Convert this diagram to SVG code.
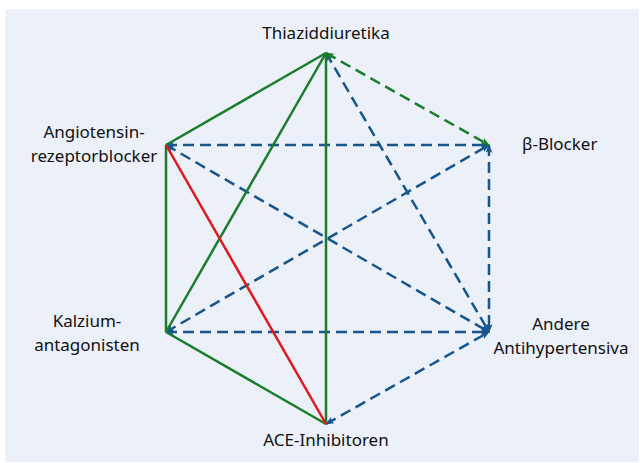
<svg xmlns="http://www.w3.org/2000/svg" width="640" height="463" viewBox="0 0 640 463">
<style>
.lbl{font-family:"Noto Sans","Open Sans","DejaVu Sans",sans-serif;font-size:17px;fill:#111}
.c{stroke-width:2.5;fill:none;stroke-linecap:butt}
.g{stroke:#1a7d2c}
.b{stroke:#17558f}
.r{stroke:#e3161d}
.d{stroke-dasharray:11,6}
</style>
<defs>
<marker id="ag" viewBox="0 0 10 8" refX="9" refY="4" markerWidth="9" markerHeight="7" markerUnits="userSpaceOnUse" orient="auto-start-reverse"><path d="M0,0 L10,4 L0,8 L2.5,4 z" fill="#1a7d2c"/></marker>
<marker id="ab" viewBox="0 0 10 8" refX="9" refY="4" markerWidth="9" markerHeight="7" markerUnits="userSpaceOnUse" orient="auto-start-reverse"><path d="M0,0 L10,4 L0,8 L2.5,4 z" fill="#17558f"/></marker>
</defs>
<rect x="5" y="9" width="634" height="453" rx="2" fill="#ebf0f9"/>
<g id="connectors">
<line class="c b d" x1="166" y1="145" x2="489" y2="145" marker-start="url(#ab)" marker-end="url(#ab)"/>
<line class="c b d" x1="166" y1="145" x2="489" y2="332" marker-start="url(#ab)" marker-end="url(#ab)"/>
<line class="c b d" x1="166" y1="332" x2="489" y2="145" marker-start="url(#ab)" marker-end="url(#ab)"/>
<line class="c b d" x1="166" y1="332" x2="489" y2="332" marker-start="url(#ab)" marker-end="url(#ab)"/>
<line class="c b d" x1="489" y1="145" x2="489" y2="332" marker-start="url(#ab)" marker-end="url(#ab)"/>
<line class="c b d" x1="326" y1="424" x2="489" y2="332" marker-start="url(#ab)" marker-end="url(#ab)"/>
<line class="c b d" x1="326" y1="53" x2="489" y2="332" marker-start="url(#ab)" marker-end="url(#ab)"/>
<line class="c g d" x1="326" y1="53" x2="489" y2="145" marker-start="url(#ag)" marker-end="url(#ag)"/>
<line class="c g" x1="326" y1="53" x2="166" y2="145"/>
<line class="c g" x1="166" y1="145" x2="166" y2="332"/>
<line class="c g" x1="166" y1="332" x2="326" y2="424"/>
<line class="c g" x1="326" y1="53" x2="166" y2="332"/>
<line class="c g" x1="326" y1="53" x2="326" y2="424"/>
<line class="c r" x1="166" y1="145" x2="326" y2="424"/>
</g>
<g id="thiazid"><text class="lbl" x="326" y="39" text-anchor="middle">Thiaziddiuretika</text></g>
<g id="beta"><text class="lbl" x="522" y="150">β-Blocker</text></g>
<g id="andere"><text class="lbl" x="561" y="330" text-anchor="middle">Andere</text><text class="lbl" x="561" y="354" text-anchor="middle">Antihypertensiva</text></g>
<g id="ace"><text class="lbl" x="326" y="446" text-anchor="middle">ACE-Inhibitoren</text></g>
<g id="kalzium"><text class="lbl" x="87" y="327" text-anchor="middle">Kalzium-</text><text class="lbl" x="87" y="351" text-anchor="middle">antagonisten</text></g>
<g id="angio"><text class="lbl" x="94" y="138" text-anchor="middle">Angiotensin-</text><text class="lbl" x="94" y="162" text-anchor="middle">rezeptorblocker</text></g>
</svg>
